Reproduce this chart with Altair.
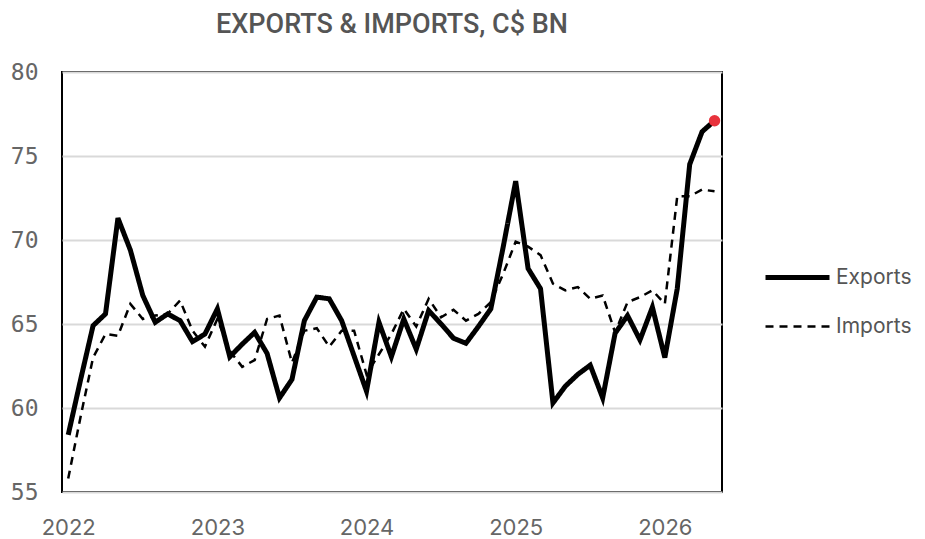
import altair as alt
import pandas as pd

years = [2022, 2023, 2024, 2025, 2026]

exports = [
    58.4, 61.7, 64.9, 65.6, 71.3, 69.4, 66.7, 65.1, 65.6, 65.2, 63.95, 64.4,
    65.9, 63.05, 63.8, 64.5, 63.25, 60.6, 61.7, 65.2, 66.6, 66.5, 65.2, 63.1,
    61.0, 65.1, 63.05, 65.3, 63.5, 65.8, 65.0, 64.15, 63.85, 64.85, 65.9, 69.6,
    73.5, 68.3, 67.1, 60.3, 61.3, 62.0, 62.55, 60.6, 64.45, 65.5, 64.05, 66.0,
    63.0, 67.1, 74.5, 76.45, 77.1,
]

imports = [
    55.8, 59.5, 63.0, 64.4, 64.3, 66.2, 65.3, 65.5, 65.6, 66.4, 64.6, 63.65,
    65.3, 63.4, 62.45, 62.85, 65.3, 65.5, 62.7, 64.6, 64.75, 63.65, 64.6, 64.6,
    62.0, 63.2, 64.4, 65.9, 64.85, 66.5, 65.4, 65.85, 65.2, 65.6, 66.3, 68.0,
    69.9, 69.6, 69.1, 67.4, 67.0, 67.2, 66.5, 66.7, 64.5, 66.3, 66.6, 67.0,
    66.2, 72.6, 72.6, 73.0, 72.9,
]

series_names = ["Exports", "Imports"]

rows = []
for i, v in enumerate(exports):
    rows.append({"m": i, "value": v, "series": "Exports"})
for i, v in enumerate(imports):
    rows.append({"m": i, "value": v, "series": "Imports"})
df = pd.DataFrame(rows)
last = pd.DataFrame([{"m": len(exports) - 1, "value": exports[-1]}])

x_scale = alt.Scale(domain=[-0.5, 52.6], nice=False, zero=False)
y_scale = alt.Scale(domain=[55, 80], nice=False, zero=False)

x_axis = alt.Axis(
    values=[0, 12, 24, 36, 48],
    labelExpr="toString(2022 + datum.value / 12)",
    title=None, grid=False, ticks=False, domain=False,
    labelFont="Inter", labelFontSize=22, labelColor="#666666",
    labelPadding=25,
)
y_axis = alt.Axis(
    values=[55, 60, 65, 70, 75, 80], title=None, ticks=False, domain=False,
    grid=True, gridColor="#d9d9d9", gridWidth=2,
    labelFont="DejaVu Sans Mono", labelFontSize=23, labelColor="#666666",
    labelPadding=24,
)

lines = alt.Chart(df).mark_line(strokeJoin="miter").encode(
    x=alt.X("m:Q", scale=x_scale, axis=x_axis),
    y=alt.Y("value:Q", scale=y_scale, axis=y_axis),
    color=alt.Color("series:N", scale=alt.Scale(domain=series_names, range=["black", "black"]),
                    legend=alt.Legend(title=None)),
    strokeDash=alt.StrokeDash("series:N", scale=alt.Scale(domain=series_names, range=[[1, 0], [8, 6]]),
                              legend=alt.Legend(title=None)),
    strokeWidth=alt.StrokeWidth("series:N", scale=alt.Scale(domain=series_names, range=[5, 2.5]),
                                legend=alt.Legend(title=None)),
    detail="series:N",
)

dot = alt.Chart(last).mark_circle(size=130, color="#e8323c", opacity=1).encode(
    x=alt.X("m:Q", scale=x_scale),
    y=alt.Y("value:Q", scale=y_scale),
)

chart = alt.layer(lines, dot).properties(
    width=660, height=420,
    title=alt.TitleParams("EXPORTS & IMPORTS, C$ BN", font="Roboto", fontSize=27, fontWeight=500,
                          color="#555555", anchor="middle", offset=22),
    autosize=alt.AutoSizeParams(type="none"),
    padding={"left": 54, "top": 64, "right": 195, "bottom": 48},
).configure_view(
    stroke="black", strokeWidth=2,
).configure_legend(
    orient="none", legendX=701, legendY=193,
    symbolType="stroke", symbolSize=4096, clipHeight=25, rowPadding=24,
    labelFont="Inter", labelFontSize=21, labelColor="#555555", labelOffset=4,
    padding=0,
)

chart.save("out.html", embed_options={"renderer": "svg", "actions": False})
